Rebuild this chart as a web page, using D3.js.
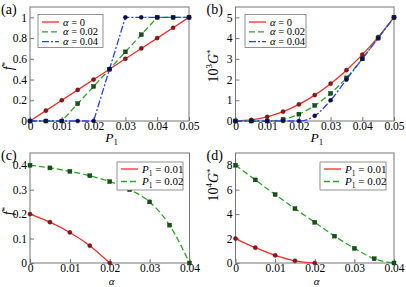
<html>
<head>
<script src="https://d3js.org/d3.v7.min.js"></script>
<style>
body { margin: 0; background: #fff; }
svg text { font-family: "Liberation Serif", serif; }
</style>
</head>
<body>
<script>
// shared x values
const P1 = [0, 0.005, 0.01, 0.015, 0.02, 0.025, 0.03, 0.035, 0.04, 0.045, 0.05];
const alphas = [0, 0.005, 0.01, 0.015, 0.02, 0.025, 0.03, 0.035, 0.04];

// (a) f* vs P1
const fA0  = [0, 0.1, 0.2, 0.3, 0.4, 0.5, 0.6, 0.7, 0.8, 0.9, 1];
const fA02 = [0, 0, 0, 0.167, 0.333, 0.5, 0.667, 0.833, 1, 1, 1];
const fA04 = [0, 0, 0, 0, 0, 0.5, 1, 1, 1, 1, 1];

// (b) 10^3 G* vs P1
const gA0  = [0, 0.05, 0.2, 0.45, 0.8, 1.25, 1.8, 2.45, 3.2, 4.05, 5];
const gA02 = [0, 0, 0, 0.08, 0.33, 0.75, 1.33, 2.08, 3.0, 4.0, 5.0];
const gA04 = [0, 0, 0, 0, 0, 0.25, 1.0, 2.0, 3.0, 4.0, 5.0];

// (c) f* vs alpha
const fP01 = [0.2, 0.167, 0.125, 0.071, 0];
const fP02 = [0.4, 0.389, 0.375, 0.357, 0.333, 0.3, 0.25, 0.155, 0];

// (d) 10^4 G* vs alpha
const gP01 = [2, 1.25, 0.63, 0.18, 0];
const gP02 = [8, 6.8, 5.6, 4.45, 3.33, 2.2, 1.2, 0.35, 0];

const xTicksP = [0, 0.01, 0.02, 0.03, 0.04, 0.05];
const xTicksA = [0, 0.01, 0.02, 0.03, 0.04];
const yTicksA = [0, 0.2, 0.4, 0.6, 0.8, 1];
const yTicksB = [0, 1, 2, 3, 4, 5];
const yTicksC = [0, 0.1, 0.2, 0.3, 0.4];
const yTicksD = [0, 2, 4, 6, 8];

const RED = "#ff2a2a", GREEN = "#2ca52c", BLUE = "#2e3cff";
const RED_M = "#9a0f0f", GREEN_M = "#0b5a0b", BLUE_M = "#0a0a55";
const SERIF = "Liberation Serif";

const svg = d3.select("body").append("svg").attr("width", 406).attr("height", 287);

function panel(cfg) {
    let x = d3.scaleLinear().domain(cfg.xd).range([cfg.l, cfg.r]);
    let y = d3.scaleLinear().domain(cfg.yd).range([cfg.b, cfg.t]);
    let g = svg.append("g");

    g.append("g").attr("transform", `translate(0,${cfg.b})`)
        .call(d3.axisBottom(x).tickValues(cfg.xt).tickFormat(String).tickSize(-4).tickPadding(0.8))
        .attr("font-family", SERIF)
        .call(a => a.select(".domain").remove())
        .call(a => a.selectAll("line").attr("stroke", "#777"))
        .call(a => a.selectAll("text").attr("font-size", 11.5).attr("fill", "#000"));
    g.append("g").attr("transform", `translate(${cfg.l},0)`)
        .call(d3.axisLeft(y).tickValues(cfg.yt).tickFormat(String).tickSize(-4).tickPadding(3))
        .attr("font-family", SERIF)
        .call(a => a.select(".domain").remove())
        .call(a => a.selectAll("line").attr("stroke", "#777"))
        .call(a => a.selectAll("text").attr("font-size", 11.5).attr("fill", "#000"));

    g.append("rect").attr("x", cfg.l).attr("y", cfg.t)
        .attr("width", cfg.r - cfg.l).attr("height", cfg.b - cfg.t)
        .attr("fill", "none").attr("stroke", "#777").attr("stroke-width", 1);

    let seriesPts = cfg.series.map(s =>
        cfg.xs.map((v, i) => [v, s.v[i]]).filter(d => d[1] !== undefined));

    cfg.series.forEach((s, k) => {
        g.append("path").datum(seriesPts[k])
            .attr("d", d3.line().x(d => x(d[0])).y(d => y(d[1])).curve(cfg.curve))
            .attr("fill", "none").attr("stroke", s.c).attr("stroke-width", 1.3)
            .attr("stroke-dasharray", s.dash || null);
    });
    cfg.series.forEach((s, k) => {
        let pts = seriesPts[k];
        if (s.shape == "sq") {
            g.selectAll(null).data(pts).enter().append("rect")
                .attr("x", d => x(d[0]) - 2).attr("y", d => y(d[1]) - 2)
                .attr("width", 4).attr("height", 4)
                .attr("fill", s.m).attr("stroke", "#222").attr("stroke-width", 0.4);
        } else {
            g.selectAll(null).data(pts).enter().append("circle")
                .attr("cx", d => x(d[0])).attr("cy", d => y(d[1])).attr("r", 2.1)
                .attr("fill", s.m).attr("stroke", "#222").attr("stroke-width", 0.4);
        }
    });

    // legend
    let L = cfg.leg;
    g.append("rect").attr("x", L.x).attr("y", L.y).attr("width", L.w).attr("height", L.h)
        .attr("fill", "#fff").attr("stroke", "#777").attr("stroke-width", 0.8);
    cfg.series.forEach((s, i) => {
        let yy = L.y + L.first + i * L.step;
        g.append("line").attr("x1", L.x + 4).attr("x2", L.x + 21).attr("y1", yy).attr("y2", yy)
            .attr("stroke", s.c).attr("stroke-width", 1.3).attr("stroke-dasharray", s.dash || null);
        let t = g.append("text").attr("x", L.x + 25).attr("y", yy + 3.5).attr("font-size", L.fs);
        if (cfg.legVar == "alpha") {
            t.append("tspan").attr("font-style", "italic").text("α");
            t.append("tspan").text(" = " + s.label);
        } else {
            t.append("tspan").attr("font-style", "italic").text("P");
            t.append("tspan").attr("font-size", 7.5).attr("dy", 3).text("1");
            t.append("tspan").attr("dy", -3).text(" = " + s.label);
        }
    });

    // panel letter
    svg.append("text").attr("x", cfg.l - 29).attr("y", cfg.t + 7).attr("font-size", 14).text(cfg.tag);

    // x label
    let xl = svg.append("text").attr("x", (cfg.l + cfg.r) / 2 + 2).attr("y", cfg.b + cfg.xly)
        .attr("text-anchor", "middle").attr("font-size", cfg.xfs);
    if (cfg.xlab == "P") {
        xl.append("tspan").attr("font-style", "italic").text("P");
        xl.append("tspan").attr("font-size", 9).attr("dy", 3).text("1");
    } else {
        xl.append("tspan").attr("font-style", "italic").text("α");
    }

    // y label
    let yl = svg.append("text")
        .attr("transform", `translate(${cfg.ylx},${cfg.yly}) rotate(-90)`)
        .attr("text-anchor", "middle").attr("font-size", 14);
    if (cfg.ylexp) {
        yl.append("tspan").text("10");
        yl.append("tspan").attr("font-size", 9).attr("dy", -6).text(cfg.ylexp);
        yl.append("tspan").attr("dy", 6).attr("font-style", "italic").text("G");
    } else {
        yl.append("tspan").attr("font-style", "italic").text("f");
    }
    yl.append("tspan").attr("font-size", 9).attr("dy", -5).text("*");
}

panel({
    tag: "(a)", l: 30, r: 189, t: 7, b: 121, xd: [0, 0.05], yd: [0, 1.1],
    xt: xTicksP, yt: yTicksA, xs: P1, curve: d3.curveLinear,
    series: [
        { v: fA0, c: RED, m: RED_M, label: "0", shape: "c" },
        { v: fA02, c: GREEN, m: GREEN_M, label: "0.02", dash: "6,3", shape: "sq" },
        { v: fA04, c: BLUE, m: BLUE_M, label: "0.04", dash: "7,2,2,2", shape: "c" }
    ],
    legVar: "alpha", leg: { x: 38, y: 14.5, w: 65, h: 33, first: 7.5, step: 9.8, fs: 10.5 },
    xlab: "P", xly: 21, xfs: 13.5, ylx: 13, yly: 66
});

panel({
    tag: "(b)", l: 235.5, r: 394, t: 7, b: 121, xd: [0, 0.05], yd: [0, 5.5],
    xt: xTicksP, yt: yTicksB, xs: P1, curve: d3.curveMonotoneX,
    series: [
        { v: gA0, c: RED, m: RED_M, label: "0", shape: "c" },
        { v: gA02, c: GREEN, m: GREEN_M, label: "0.02", dash: "6,3", shape: "sq" },
        { v: gA04, c: BLUE, m: BLUE_M, label: "0.04", dash: "7,2,2,2", shape: "c" }
    ],
    legVar: "alpha", leg: { x: 245, y: 14.5, w: 61, h: 33, first: 7.5, step: 9.8, fs: 10.5 },
    xlab: "P", xly: 21, xfs: 13.5, ylx: 218, yly: 66, ylexp: "3"
});

panel({
    tag: "(c)", l: 30, r: 189.5, t: 153, b: 263, xd: [0, 0.04], yd: [0, 0.45],
    xt: xTicksA, yt: yTicksC, xs: alphas, curve: d3.curveMonotoneX,
    series: [
        { v: fP01, c: RED, m: RED_M, label: "0.01", shape: "c" },
        { v: fP02, c: GREEN, m: GREEN_M, label: "0.02", dash: "6,3", shape: "sq" }
    ],
    legVar: "P", leg: { x: 117, y: 162, w: 66, h: 28, first: 7, step: 12.5, fs: 11 },
    xlab: "a", xly: 21.5, xfs: 11, ylx: 13, yly: 211
});

panel({
    tag: "(d)", l: 235.5, r: 394, t: 153, b: 263, xd: [0, 0.04], yd: [0, 9],
    xt: xTicksA, yt: yTicksD, xs: alphas, curve: d3.curveMonotoneX,
    series: [
        { v: gP01, c: RED, m: RED_M, label: "0.01", shape: "c" },
        { v: gP02, c: GREEN, m: GREEN_M, label: "0.02", dash: "6,3", shape: "sq" }
    ],
    legVar: "P", leg: { x: 320, y: 162, w: 66, h: 28, first: 7, step: 12.5, fs: 11 },
    xlab: "a", xly: 21.5, xfs: 11, ylx: 218, yly: 185, ylexp: "4"
});
</script>
</body>
</html>
